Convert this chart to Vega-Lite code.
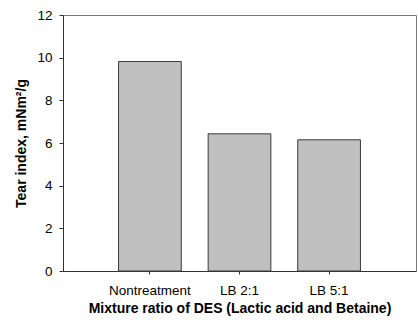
{
  "$schema": "https://vega.github.io/schema/vega-lite/v6.json",
  "autosize": "none",
  "padding": {"left": 63, "top": 15, "right": 2, "bottom": 51},
  "width": 353,
  "height": 256,
  "background": "white",
  "data": {
    "values": [
      {"treatment": "Nontreatment", "tear": 9.82},
      {"treatment": "LB 2:1", "tear": 6.43},
      {"treatment": "LB 5:1", "tear": 6.15}
    ]
  },
  "mark": {"type": "bar", "fill": "#c0c0c0", "stroke": "#3a3a3a", "strokeWidth": 1},
  "encoding": {
    "x": {
      "field": "treatment",
      "type": "nominal",
      "sort": null,
      "scale": {"paddingInner": 0.3, "paddingOuter": 0.62},
      "axis": {
        "title": "Mixture ratio of DES (Lactic acid and Betaine)",
        "labelAngle": 0,
        "tickSize": 3,
        "labelPadding": 9,
        "titlePadding": 5
      }
    },
    "y": {
      "field": "tear",
      "type": "quantitative",
      "scale": {"domain": [0, 12], "nice": false},
      "axis": {
        "title": "Tear index, mNm²/g",
        "values": [0, 2, 4, 6, 8, 10, 12],
        "grid": false,
        "tickSize": 4,
        "labelPadding": 7,
        "titlePadding": 8
      }
    }
  },
  "config": {
    "font": "Liberation Sans",
    "view": {"stroke": "#7a7a7a", "strokeWidth": 1},
    "axis": {
      "domainColor": "#333333",
      "tickColor": "#333333",
      "labelColor": "#000000",
      "titleColor": "#000000",
      "labelFont": "Liberation Sans",
      "titleFont": "Liberation Sans",
      "labelFontSize": 13.5,
      "titleFontSize": 14,
      "titleFontWeight": "bold"
    }
  }
}
